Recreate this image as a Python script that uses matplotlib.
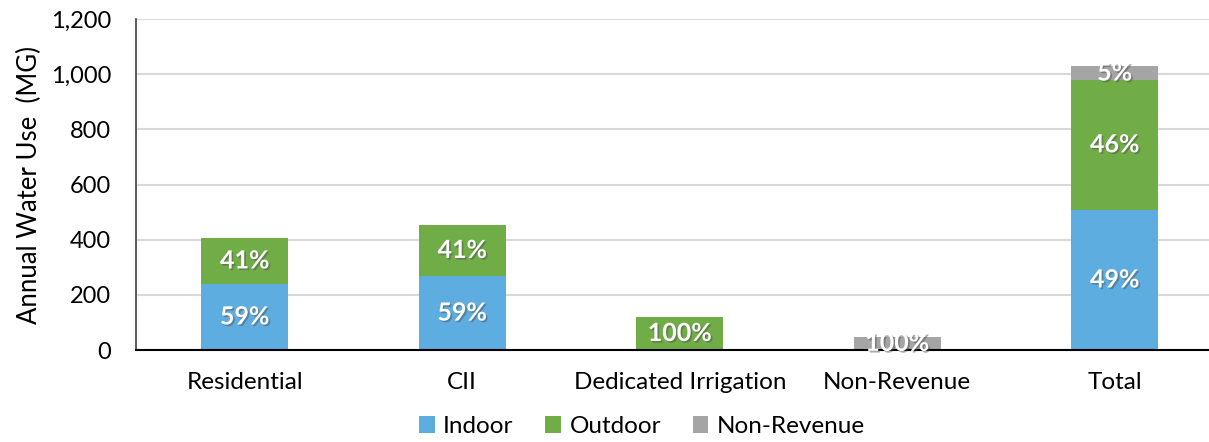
import matplotlib

matplotlib.use("Agg")
import matplotlib.pyplot as plt
import matplotlib.patheffects as pe
import numpy as np

# annual water use by sector (MG)
categories = ["Residential", "CII", "Dedicated Irrigation", "Non-Revenue", "Total"]
indoor = [240, 268, 0, 0, 508]
outdoor = [166, 186, 120, 0, 472]
non_revenue = [0, 0, 0, 48, 48]

series = [
    ("Indoor", indoor, "#5DADE0"),
    ("Outdoor", outdoor, "#70AD47"),
    ("Non-Revenue", non_revenue, "#A5A5A5"),
]
y_ticks = [0, 200, 400, 600, 800, 1000, 1200]

plt.rcParams["font.family"] = ["Lato", "DejaVu Sans"]

fig = plt.figure(figsize=(12.09, 4.42), dpi=100)
ax = fig.add_axes([0.1125, 0.2081, 0.8995, 0.7489])

x = np.arange(len(categories))
totals = np.sum([s[1] for s in series], axis=0)
bottom = np.zeros(len(categories))
shadow = [pe.SimplePatchShadow(offset=(1.2, -1.2), alpha=0.45), pe.Normal()]

for name, vals, color in series:
    vals = np.asarray(vals, dtype=float)
    ax.bar(x, vals, 0.4, bottom=bottom, color=color, label=name, zorder=2)
    for i, v in enumerate(vals):
        if v <= 0:
            continue
        pct = round(100 * v / totals[i])
        ax.text(x[i], bottom[i] + v / 2, f"{pct}%", ha="center", va="center",
                color="white", fontsize=18, fontweight="bold",
                path_effects=shadow, zorder=4)
    bottom += vals

ax.set_xlim(-0.5, len(categories) - 0.5)
ax.set_ylim(0, 1200)
ax.set_yticks(y_ticks)
ax.set_yticklabels([f"{t:,}" for t in y_ticks])
ax.set_xticks(x)
ax.set_xticklabels(categories)
ax.tick_params(axis="both", length=0, colors="#000000")
ax.tick_params(axis="x", pad=16, labelsize=17.5)
ax.tick_params(axis="y", pad=18, labelsize=17)
ax.set_ylabel("Annual Water Use  (MG)", fontsize=18.5, labelpad=6)

ax.grid(axis="y", color="#D9D9D9", linewidth=1.5, zorder=0)
ax.set_axisbelow(True)
for side in ["top", "right"]:
    ax.spines[side].set_visible(False)
ax.spines["left"].set_color("#404040")
ax.spines["left"].set_linewidth(1.2)
ax.spines["bottom"].set_color("#000000")
ax.spines["bottom"].set_linewidth(1.5)
ax.spines["bottom"].set_zorder(3)

handles, labels = ax.get_legend_handles_labels()
fig.legend(handles, labels, loc="center", bbox_to_anchor=(0.531, 0.035), ncol=3,
           frameon=False, fontsize=17.5, handlelength=0.65, handleheight=0.65,
           handletextpad=0.35, columnspacing=1.3)

fig.savefig("out.png", dpi=100)
plt.close(fig)
